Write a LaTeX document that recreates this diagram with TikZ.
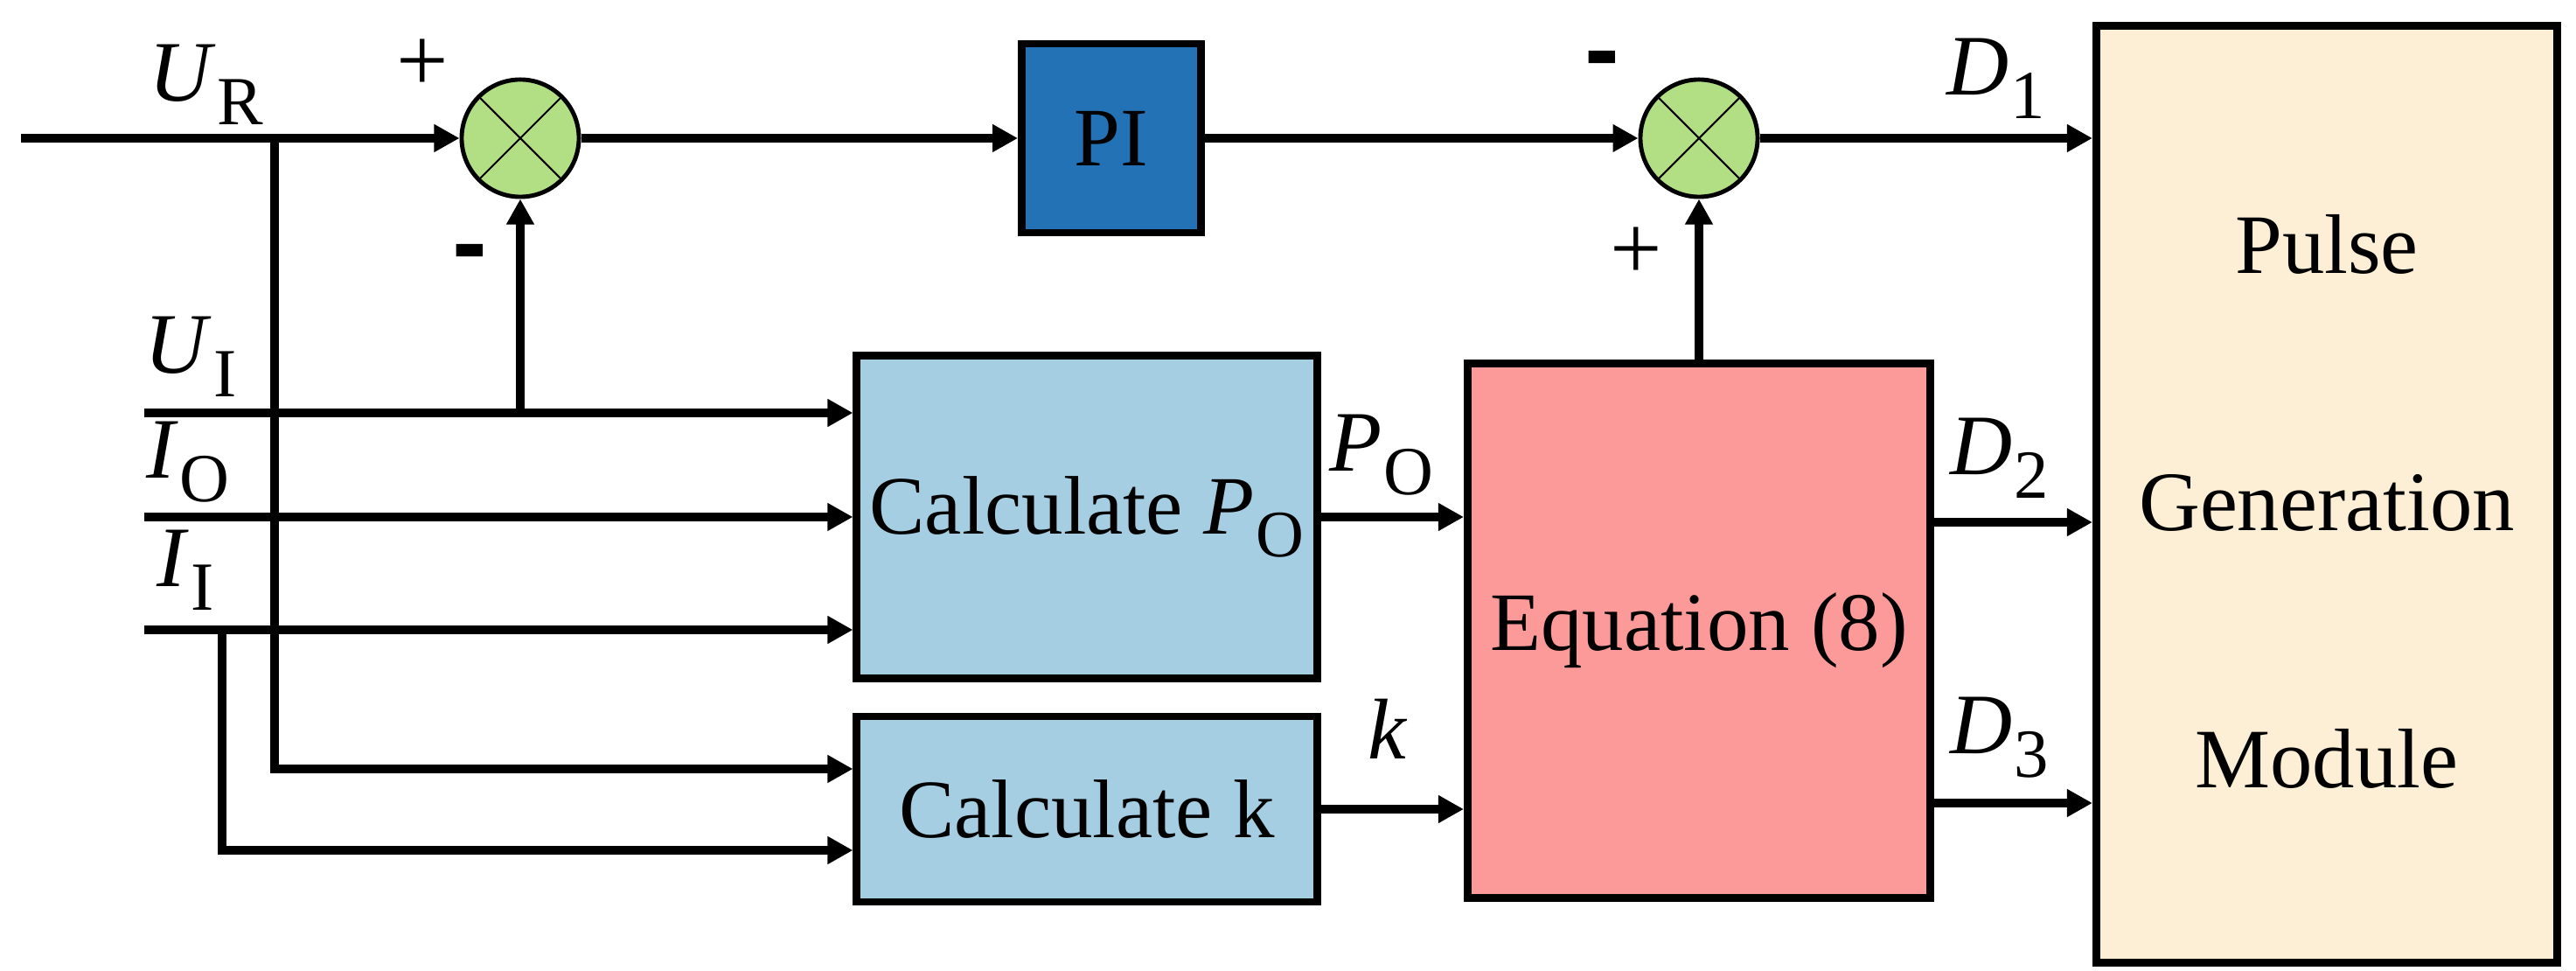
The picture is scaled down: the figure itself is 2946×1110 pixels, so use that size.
\documentclass[tikz,border=0pt]{standalone}
\usepackage{fontspec}
\usepackage{graphicx}
\setmainfont{Liberation Serif}
\newfontfamily\sansb{Liberation Sans}
\usetikzlibrary{arrows.meta,calc}
\definecolor{sumgreen}{RGB}{178,222,132}
\definecolor{piblue}{RGB}{35,114,182}
\definecolor{calcblue}{RGB}{166,206,227}
\definecolor{eqpink}{RGB}{251,154,153}
\definecolor{pgmcream}{RGB}{253,239,214}
\newcommand{\lbl}[2]{\textit{#1}\kern0.02em\raisebox{-0.27em}{\scalebox{0.8}{#2}}}
\begin{document}
\begin{tikzpicture}[x=0.01cm,y=-0.01cm,
  wire/.style={line width=2.7pt},
  arr/.style={wire,-{Triangle[length=0.29cm,width=0.3cm]}},
  box/.style={draw,line width=2.5pt,inner sep=0pt,align=center},
  sumnode/.style={circle,draw,line width=1.4pt,fill=sumgreen,minimum size=1.34cm,inner sep=0pt,
    path picture={\draw[line width=0.6pt] (path picture bounding box.north west) -- (path picture bounding box.south east)
      (path picture bounding box.north east) -- (path picture bounding box.south west);}},
  txt/.style={font=\fontsize{27}{32}\selectfont},
  lab/.style={font=\fontsize{28}{32}\selectfont,inner sep=0pt},
  plus/.style={font=\fontsize{30}{30}\selectfont,inner sep=0pt},
  minus/.style={font=\sansb\bfseries\fontsize{34}{34}\selectfont,inner sep=0pt}
]
\useasboundingbox (0,0) rectangle (2946,1110);

% blocks
\node[sumnode] (sum1) at (595,158) {};
\node[sumnode] (sum2) at (1943,158) {};
\node[box,fill=piblue,minimum width=2.05cm,minimum height=2.16cm,txt] (pi) at (1271,158) {PI};
\node[box,fill=calcblue,minimum width=5.26cm,minimum height=3.68cm,txt] (cp) at (1243,591) {Calculate \lbl{P}{O}};
\node[box,fill=calcblue,minimum width=5.26cm,minimum height=2.12cm,txt] (ck) at (1243,925) {Calculate k};
\node[box,fill=eqpink,minimum width=5.29cm,minimum height=6.10cm,txt] (eq) at (1943,721) {Equation (8)};
\node[box,fill=pgmcream,minimum width=5.27cm,minimum height=10.71cm,font=\fontsize{27.5}{83.6}\selectfont] (pgm) at (2661,565) {\rule{0pt}{0.87em}Pulse\\Generation\\Module};

% coordinates
\coordinate (inR) at (24,158);
\coordinate (bR) at (314,158);
\coordinate (inUI) at (165,472);
\coordinate (jUI) at (595,472);
\coordinate (inIO) at (165,591);
\coordinate (inII) at (165,720);
\coordinate (bI) at (254,720);
\coordinate (d2y) at (0,597);
\coordinate (d3y) at (0,918);

% connectors
\draw[arr] (inR) -- (sum1);
\draw[arr] (sum1) -- (pi);
\draw[arr] (pi) -- (sum2);
\draw[arr] (sum2) -- (pgm.west |- sum2);
\draw[arr] (bR) |- ($(ck.west)+(0,-46)$);
\draw[arr] (inUI) -- (cp.west |- inUI);
\draw[arr] (jUI) -- (sum1.south);
\draw[arr] (inIO) -- (cp.west |- inIO);
\draw[arr] (inII) -- (cp.west |- inII);
\draw[arr] (bI) |- ($(ck.west)+(0,47)$);
\draw[arr] (cp.east) -- (eq.west |- cp);
\draw[arr] (ck.east) -- (eq.west |- ck);
\draw[arr] (eq.north) -- (sum2.south);
\draw[arr] (eq.east |- d2y) -- (pgm.west |- d2y);
\draw[arr] (eq.east |- d3y) -- (pgm.west |- d3y);

% labels
\node[lab] (lUR) at (236,97) {\lbl{U}{R}};
\node[lab] (lUI) at (218,408) {\lbl{U}{I}};
\node[lab] (lIO) at (215,528) {\lbl{I}{O}};
\node[lab] (lII) at (212,652) {\lbl{I}{I}};
\node[lab] (lPO) at (1580,520) {\lbl{P}{O}};
\node[lab] (lk) at (1587,833) {\textit{k}};
\node[lab] (lD1) at (2283,90) {\lbl{D}{1}};
\node[lab] (lD2) at (2287,524) {\lbl{D}{2}};
\node[lab] (lD3) at (2287,843) {\lbl{D}{3}};

% signs
\node[plus] (s1p) at (483,75) {+};
\node[minus] (s1m) at (537,298) {-};
\node[minus] (s2m) at (1832,77) {-};
\node[plus] (s2p) at (1871,290) {+};
\end{tikzpicture}
\end{document}
